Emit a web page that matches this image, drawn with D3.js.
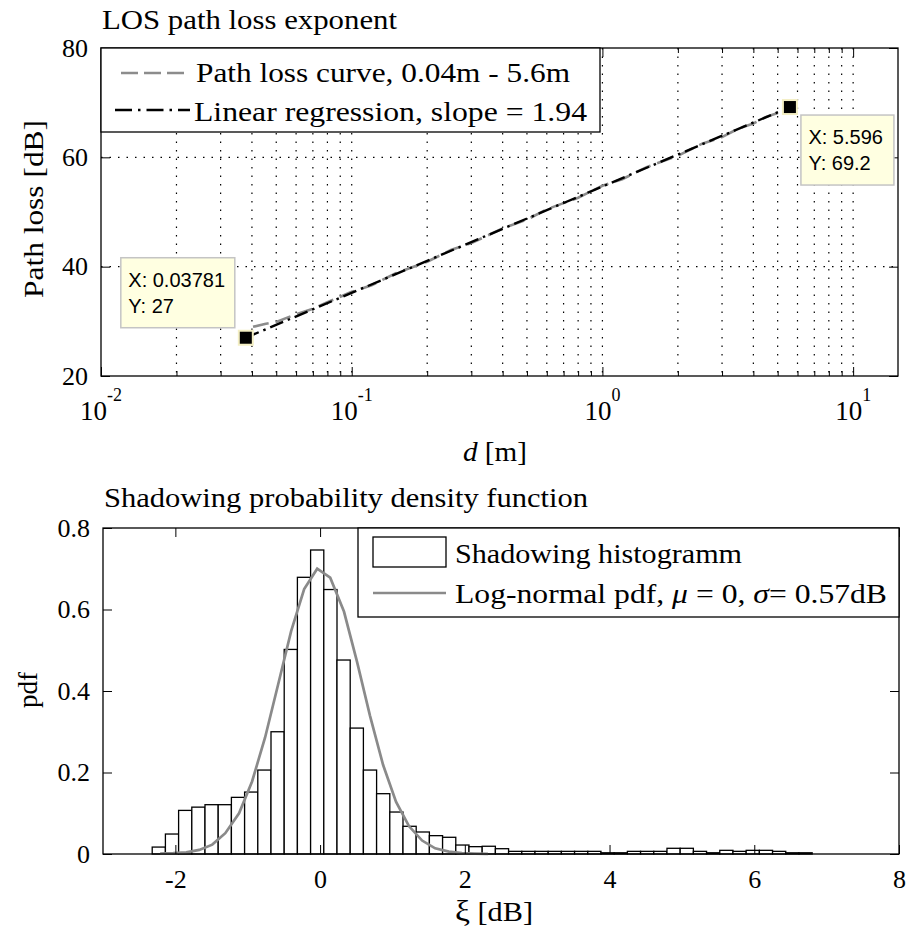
<!DOCTYPE html>
<html><head><meta charset="utf-8">
<script src="https://cdn.jsdelivr.net/npm/d3@7/dist/d3.min.js"></script>
<style>body{margin:0;background:#fff}</style>
</head><body>
<svg id="c" width="909" height="934"></svg>
<script>
// ---------------- data ----------------
// top panel: path loss vs distance
const pathLossD  = [0.0404,0.045,0.05,0.06,0.07,0.08,0.1,0.12,0.15,0.2,0.25,0.3,0.4,0.5,0.6,0.8,1.0,1.2,1.5,2.0,2.5,3.0,3.5,4.0,4.5,5.0,5.6];
const pathLossDB = [29.0,29.5,29.9,31.3,32.3,33.5,35.4,36.6,38.8,40.9,43.1,44.3,47.0,48.6,50.5,52.6,54.8,56.0,58.2,60.3,62.5,63.7,65.3,66.2,67.4,68.1,69.2];
const regD  = [0.03781, 5.596];
const regDB = [27, 69.2];
const tipD  = [0.03781, 5.596];
const tipDB = [27, 69.2];
const tipLabels = [["X: 0.03781","Y: 27"],["X: 5.596","Y: 69.2"]];
const xTopExps  = [-2,-1,0,1];
const yTopTicks = [20,40,60,80];
const yTopGrid  = [40,60];

// bottom panel: shadowing histogram (50 bins) + fitted pdf
const histLo = -2.32, histHi = 6.80;
const histPdf = [0.017,0.049,0.107,0.115,0.121,0.121,0.139,0.152,0.206,0.300,
                 0.502,0.679,0.746,0.649,0.476,0.309,0.206,0.148,0.103,0.068,
                 0.054,0.045,0.041,0.022,0.018,0.019,0.013,0.0065,0.0065,0.0065,
                 0.0065,0.0065,0.0065,0.0065,0.003,0.003,0.0065,0.0065,0.0065,0.014,
                 0.014,0.0065,0.003,0.009,0.0065,0.009,0.009,0.0065,0.003,0.003];
const pdfX = [-2.21,-2.03,-1.85,-1.67,-1.49,-1.31,-1.12,-0.94,-0.76,-0.58,-0.40,-0.22,-0.04,0.14,0.33,0.51,0.69,0.87,1.05,1.23,1.41,1.59,1.78,1.96,2.14,2.32];
const pdfY = [0.001,0.002,0.004,0.010,0.023,0.051,0.100,0.178,0.286,0.416,0.547,0.650,0.700,0.678,0.595,0.472,0.339,0.219,0.128,0.068,0.033,0.014,0.006,0.002,0.001,0.0005];
const xBotTicks = [-2,0,2,4,6,8];
const yBotTicks = [0,0.2,0.4,0.6,0.8];

// ---------------- drawing ----------------
const SERIF = "Liberation Serif, Times New Roman, serif";
const SANS  = "Liberation Sans, Arial, sans-serif";
const svg = d3.select("#c");
svg.append("rect").attr("width",909).attr("height",934).attr("fill","#fff");

function txt(g, s, x, y, size, opts={}) {
  const t = g.append("text").attr("x",x).attr("y",y)
    .attr("font-family",opts.family||SERIF).attr("font-size",size)
    .attr("fill","#000").attr("text-anchor",opts.anchor||"start").text(s);
  if (opts.len) t.attr("textLength",opts.len).attr("lengthAdjust","spacingAndGlyphs");
  if (opts.style) t.attr("font-style",opts.style);
  return t;
}
function styleAxis(g){ g.select(".domain").remove(); g.selectAll("line").attr("stroke","#000"); g.selectAll("text").remove(); }

// ===== TOP PANEL =====
const T = {l:101, r:898, t:48, b:376};
const xT = d3.scaleLog().domain([0.01,15.1]).range([T.l,T.r]);
const yT = d3.scaleLinear().domain([20,80]).range([T.b,T.t]);
const gTop = svg.append("g");

// grid
const allLogTicks = xT.ticks().filter(v => v>0.0100001 && v<15);
gTop.append("g").selectAll("line").data(allLogTicks).join("line")
  .attr("x1",d=>xT(d)).attr("x2",d=>xT(d)).attr("y1",T.t).attr("y2",T.b)
  .attr("stroke","#000").attr("stroke-width",1.2).attr("stroke-dasharray","1.5,7");
gTop.append("g").selectAll("line").data(yTopGrid).join("line")
  .attr("x1",T.l).attr("x2",T.r).attr("y1",d=>yT(d)).attr("y2",d=>yT(d))
  .attr("stroke","#000").attr("stroke-width",1.2).attr("stroke-dasharray","1.5,7");

// axes ticks (inward)
const majors = xTopExps.map(e=>Math.pow(10,e));
const minors = xT.ticks().filter(v => !majors.some(m=>Math.abs(m-v)/m<1e-6) && v<15);
gTop.append("g").attr("transform",`translate(0,${T.b})`).call(d3.axisBottom(xT).tickValues(majors).tickSize(-9)).call(styleAxis);
gTop.append("g").attr("transform",`translate(0,${T.b})`).call(d3.axisBottom(xT).tickValues(minors).tickSize(-5)).call(styleAxis);
gTop.append("g").attr("transform",`translate(0,${T.t})`).call(d3.axisTop(xT).tickValues(majors).tickSize(-9)).call(styleAxis);
gTop.append("g").attr("transform",`translate(0,${T.t})`).call(d3.axisTop(xT).tickValues(minors).tickSize(-5)).call(styleAxis);
gTop.append("g").attr("transform",`translate(${T.r},0)`).call(d3.axisRight(yT).tickValues(yTopTicks).tickSize(-9)).call(styleAxis);
const yAxT = gTop.append("g").attr("transform",`translate(${T.l},0)`)
  .call(d3.axisLeft(yT).tickValues(yTopTicks).tickSize(-9).tickPadding(13));
yAxT.select(".domain").remove();
yAxT.selectAll("line").attr("stroke","#000");
yAxT.selectAll("text").attr("font-family",SERIF).attr("font-size",26).attr("fill","#000");

// x tick labels 10^n
const xl = gTop.append("g");
xTopExps.forEach(e=>{
  const t = xl.append("text").attr("x",xT(Math.pow(10,e))).attr("y",420)
    .attr("text-anchor","middle").attr("font-family",SERIF).attr("fill","#000");
  t.append("tspan").attr("font-size",27).text("10");
  t.append("tspan").attr("font-size",18).attr("dy",-19).text(String(e));
});

// lines
const lineT = d3.line().x(d=>xT(d[0])).y(d=>yT(d[1]));
gTop.append("path").datum(d3.zip(pathLossD,pathLossDB)).attr("d",lineT)
  .attr("fill","none").attr("stroke","#8c8c8c").attr("stroke-width",2.6).attr("stroke-dasharray","16,7");
gTop.append("path").datum(d3.zip(regD,regDB)).attr("d",lineT)
  .attr("fill","none").attr("stroke","#000").attr("stroke-width",2.4).attr("stroke-dasharray","14,5,2.5,5");

// frame
gTop.append("rect").attr("x",T.l).attr("y",T.t).attr("width",T.r-T.l).attr("height",T.b-T.t)
  .attr("fill","none").attr("stroke","#000").attr("stroke-width",1.3);

// legend
const lgT = gTop.append("g");
lgT.append("rect").attr("x",T.l).attr("y",T.t).attr("width",600-T.l).attr("height",132-T.t)
  .attr("fill","#fff").attr("stroke","#000").attr("stroke-width",1.3);
lgT.append("line").attr("x1",121).attr("x2",190).attr("y1",73).attr("y2",73)
  .attr("stroke","#8c8c8c").attr("stroke-width",2.6).attr("stroke-dasharray","17,6");
lgT.append("line").attr("x1",115).attr("x2",190).attr("y1",110).attr("y2",110)
  .attr("stroke","#000").attr("stroke-width",2.4).attr("stroke-dasharray","17,6,2.5,6");
txt(lgT,"Path loss curve, 0.04m - 5.6m",196,82,28,{len:374});
txt(lgT,"Linear regression, slope = 1.94",194,121,28,{len:393});

// data tips
const tipOff = [{dx:-125,dy:-80},{dx:11,dy:8}];
tipD.forEach((d,i)=>{
  const px = xT(d), py = yT(tipDB[i]);
  const bx = px + tipOff[i].dx, by = py + tipOff[i].dy;
  const w = i===0 ? 114 : 93;
  gTop.append("rect").attr("x",bx).attr("y",by).attr("width",w).attr("height",70)
    .attr("fill","#ffffe1").attr("stroke","#c4c4c4").attr("stroke-width",1.5);
  txt(gTop,tipLabels[i][0],bx+7.5,by+29,20,{family:SANS});
  txt(gTop,tipLabels[i][1],bx+7.5,by+55,20,{family:SANS});
  gTop.append("rect").attr("x",px-7).attr("y",py-7).attr("width",14).attr("height",14)
    .attr("fill","#000").attr("stroke","#f4efc4").attr("stroke-width",2);
});

// labels
txt(svg,"LOS path loss exponent",102,29,27,{len:295});
svg.append("text").attr("transform","translate(43,209) rotate(-90)")
  .attr("text-anchor","middle").attr("font-family",SERIF).attr("font-size",27).attr("fill","#000")
  .attr("textLength",178).attr("lengthAdjust","spacingAndGlyphs").text("Path loss [dB]");
const dl = svg.append("text").attr("x",463).attr("y",461).attr("font-family",SERIF)
  .attr("font-size",27).attr("fill","#000").attr("textLength",64).attr("lengthAdjust","spacingAndGlyphs");
dl.append("tspan").attr("font-style","italic").text("d");
dl.append("tspan").text(" [m]");

// ===== BOTTOM PANEL =====
const B = {l:103, r:899, t:528, b:854};
const xB = d3.scaleLinear().domain([-3,8]).range([B.l,B.r]);
const yB = d3.scaleLinear().domain([0,0.8]).range([B.b,B.t]);
const gBot = svg.append("g");

// histogram bars
const binW = (histHi-histLo)/histPdf.length;
gBot.append("g").selectAll("rect").data(histPdf).join("rect")
  .attr("x",(d,i)=>xB(histLo+i*binW)).attr("width",(d,i)=>xB(histLo+(i+1)*binW)-xB(histLo+i*binW))
  .attr("y",d=>yB(d)).attr("height",d=>yB(0)-yB(d))
  .attr("fill","#fff").attr("stroke","#000").attr("stroke-width",1.3);

// pdf curve
gBot.append("path").datum(d3.zip(pdfX,pdfY))
  .attr("d",d3.line().x(d=>xB(d[0])).y(d=>yB(d[1])))
  .attr("fill","none").attr("stroke","#8a8a8a").attr("stroke-width",2.7);

// axes
gBot.append("g").attr("transform",`translate(0,${B.t})`).call(d3.axisTop(xB).tickValues(xBotTicks).tickSize(-9)).call(styleAxis);
gBot.append("g").attr("transform",`translate(${B.r},0)`).call(d3.axisRight(yB).tickValues(yBotTicks).tickSize(-9)).call(styleAxis);
const xAxB = gBot.append("g").attr("transform",`translate(0,${B.b})`)
  .call(d3.axisBottom(xB).tickValues(xBotTicks).tickSize(-9).tickPadding(16).tickFormat(d=>String(d)));
xAxB.select(".domain").remove();
xAxB.selectAll("line").attr("stroke","#000");
xAxB.selectAll("text").attr("font-family",SERIF).attr("font-size",26).attr("fill","#000");
const yAxB = gBot.append("g").attr("transform",`translate(${B.l},0)`)
  .call(d3.axisLeft(yB).tickValues(yBotTicks).tickSize(-9).tickPadding(13).tickFormat(d=>d===0?"0":d3.format(".1f")(d)));
yAxB.select(".domain").remove();
yAxB.selectAll("line").attr("stroke","#000");
yAxB.selectAll("text").attr("font-family",SERIF).attr("font-size",26).attr("fill","#000");

gBot.append("rect").attr("x",B.l).attr("y",B.t).attr("width",B.r-B.l).attr("height",B.b-B.t)
  .attr("fill","none").attr("stroke","#000").attr("stroke-width",1.3);

// legend
const lgB = gBot.append("g");
lgB.append("rect").attr("x",358).attr("y",B.t).attr("width",B.r-358).attr("height",617-B.t)
  .attr("fill","#fff").attr("stroke","#000").attr("stroke-width",1.3);
lgB.append("rect").attr("x",373).attr("y",537).attr("width",73).attr("height",30)
  .attr("fill","#fff").attr("stroke","#000").attr("stroke-width",1.3);
lgB.append("line").attr("x1",373).attr("x2",446).attr("y1",593).attr("y2",593)
  .attr("stroke","#8a8a8a").attr("stroke-width",2.7);
txt(lgB,"Shadowing histogramm",455,563,28,{len:287});
const lt = lgB.append("text").attr("x",455).attr("y",603).attr("font-family",SERIF)
  .attr("font-size",28).attr("fill","#000").attr("textLength",432).attr("lengthAdjust","spacingAndGlyphs");
lt.append("tspan").text("Log-normal pdf, ");
lt.append("tspan").attr("font-style","italic").text("\u03bc");
lt.append("tspan").text(" = 0, ");
lt.append("tspan").attr("font-style","italic").text("\u03c3");
lt.append("tspan").text("= 0.57dB");

// labels
txt(svg,"Shadowing probability density function",104,507,27,{len:484});
svg.append("text").attr("transform","translate(37,690) rotate(-90)")
  .attr("text-anchor","middle").attr("font-family",SERIF).attr("font-size",27).attr("fill","#000").text("pdf");
const xi = svg.append("text").attr("x",455).attr("y",921).attr("font-family",SERIF)
  .attr("font-size",27).attr("fill","#000").attr("textLength",78).attr("lengthAdjust","spacingAndGlyphs");
xi.append("tspan").attr("font-size",30).text("\u03be");
xi.append("tspan").text("  [dB]");
</script>
</body></html>
